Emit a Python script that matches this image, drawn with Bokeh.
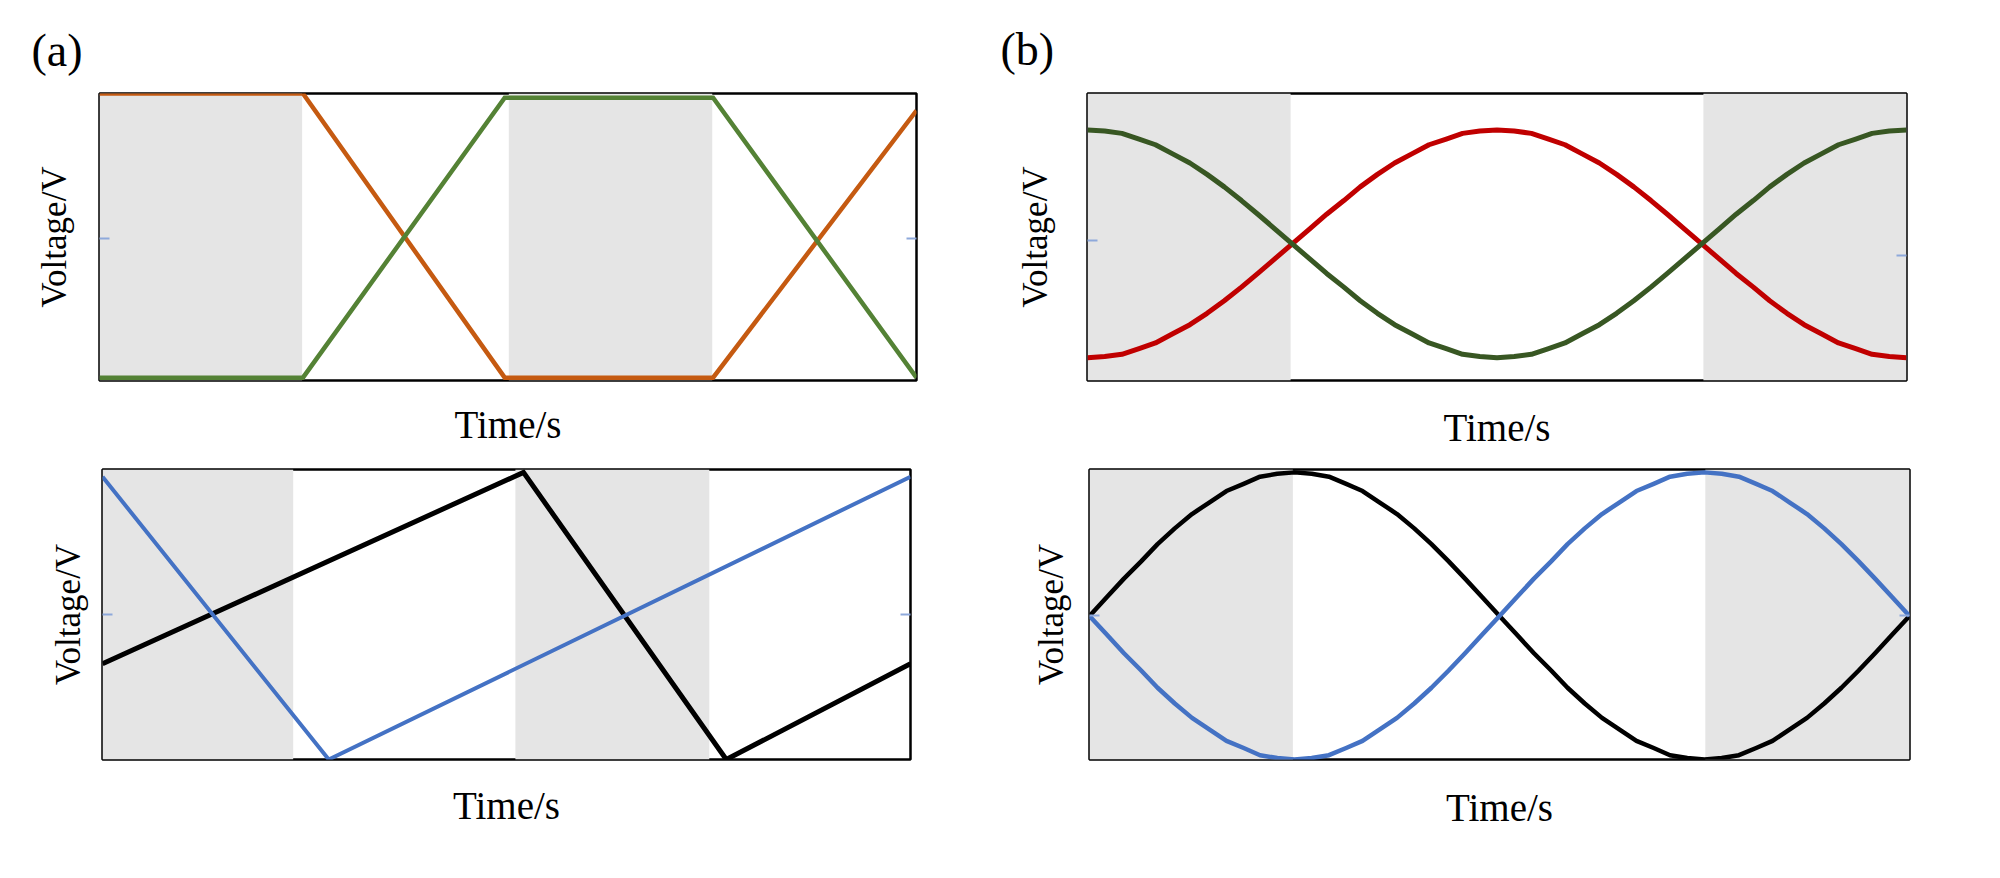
from bokeh.plotting import figure
from bokeh.models import Range1d, LinearAxis, FixedTicker, BoxAnnotation, CustomJSTickFormatter
from bokeh.layouts import column, row
from bokeh.embed import file_html
from bokeh.resources import INLINE

# ---------------- data (time as fraction of the window, voltage in arbitrary units) ----------------
# panel (a), upper: trapezoid waveforms
a1_time = [0.0, 0.249, 0.496, 0.751, 1.0]
a1_orange = [1.0, 1.0, 0.0, 0.0, 0.94]
a1_green = [0.0, 0.0, 0.985, 0.985, 0.0]
a1_shade_start = [0.0, 0.501]
a1_shade_end = [0.248, 0.750]

# panel (a), lower: sawtooth-like waveforms
a2_blue_time = [0.0, 0.28, 1.0]
a2_blue = [0.975, 0.0, 0.975]
a2_black_time = [0.0, 0.521, 0.772, 1.0]
a2_black = [0.33, 0.99, 0.0, 0.33]
a2_shade_start = [0.0, 0.511]
a2_shade_end = [0.236, 0.751]

# panel (b): smooth waveforms read at 49 time points
b_time = [0.0, 0.021, 0.042, 0.063, 0.083, 0.104, 0.125, 0.146, 0.167, 0.188, 0.208, 0.229,
          0.25, 0.271, 0.292, 0.313, 0.333, 0.354, 0.375, 0.396, 0.417, 0.438, 0.458, 0.479,
          0.5, 0.521, 0.542, 0.563, 0.583, 0.604, 0.625, 0.646, 0.667, 0.688, 0.708, 0.729,
          0.75, 0.771, 0.792, 0.813, 0.833, 0.854, 0.875, 0.896, 0.917, 0.938, 0.958, 0.979, 1.0]
b1_green = [1.0, 0.99, 0.97, 0.92, 0.87, 0.79, 0.71, 0.61, 0.5, 0.38, 0.26, 0.13,
            0.0, -0.13, -0.26, -0.38, -0.5, -0.61, -0.71, -0.79, -0.87, -0.92, -0.97, -0.99,
            -1.0, -0.99, -0.97, -0.92, -0.87, -0.79, -0.71, -0.61, -0.5, -0.38, -0.26, -0.13,
            0.0, 0.13, 0.26, 0.38, 0.5, 0.61, 0.71, 0.79, 0.87, 0.92, 0.97, 0.99, 1.0]
b1_red = [-1.0, -0.99, -0.97, -0.92, -0.87, -0.79, -0.71, -0.61, -0.5, -0.38, -0.26, -0.13,
          0.0, 0.13, 0.26, 0.38, 0.5, 0.61, 0.71, 0.79, 0.87, 0.92, 0.97, 0.99,
          1.0, 0.99, 0.97, 0.92, 0.87, 0.79, 0.71, 0.61, 0.5, 0.38, 0.26, 0.13,
          0.0, -0.13, -0.26, -0.38, -0.5, -0.61, -0.71, -0.79, -0.87, -0.92, -0.97, -0.99, -1.0]
b1_shade_start = [0.0, 0.752]
b1_shade_end = [0.248, 1.0]

b2_black = [0.0, 0.13, 0.26, 0.38, 0.5, 0.61, 0.71, 0.79, 0.87, 0.92, 0.97, 0.99,
            1.0, 0.99, 0.97, 0.92, 0.87, 0.79, 0.71, 0.61, 0.5, 0.38, 0.26, 0.13,
            0.0, -0.13, -0.26, -0.38, -0.5, -0.61, -0.71, -0.79, -0.87, -0.92, -0.97, -0.99,
            -1.0, -0.99, -0.97, -0.92, -0.87, -0.79, -0.71, -0.61, -0.5, -0.38, -0.26, -0.13, 0.0]
b2_blue = [0.0, -0.13, -0.26, -0.38, -0.5, -0.61, -0.71, -0.79, -0.87, -0.92, -0.97, -0.99,
           -1.0, -0.99, -0.97, -0.92, -0.87, -0.79, -0.71, -0.61, -0.5, -0.38, -0.26, -0.13,
           0.0, 0.13, 0.26, 0.38, 0.5, 0.61, 0.71, 0.79, 0.87, 0.92, 0.97, 0.99,
           1.0, 0.99, 0.97, 0.92, 0.87, 0.79, 0.71, 0.61, 0.5, 0.38, 0.26, 0.13, 0.0]
b2_shade_start = [0.0, 0.751]
b2_shade_end = [0.248, 1.0]

x_label = "Time/s"
y_label = "Voltage/V"
panel_labels = ["(a)", "(b)"]

# ---------------- styling ----------------
SHADE = "#E5E5E5"
TICK = "#8EA9DB"
ORANGE = "#C55A11"
GREEN_A = "#548235"
RED = "#C00000"
GREEN_B = "#385723"
BLUE = "#4472C4"
BLACK = "#000000"
SERIF = "Liberation Serif"


def make_panel(w, h, left, right, top, bottom, yr, x_standoff, y_standoff,
               tick_left, tick_right, shade_start, shade_end):
    p = figure(width=w, height=h,
               min_border_left=left, min_border_right=right,
               min_border_top=top, min_border_bottom=bottom,
               x_range=Range1d(0, 1), y_range=Range1d(*yr),
               x_axis_location=None, y_axis_location=None,
               toolbar_location=None, tools="", output_backend="svg")
    p.xgrid.visible = False
    p.ygrid.visible = False
    p.background_fill_color = "white"
    p.border_fill_color = "white"
    p.outline_line_color = "black"
    p.outline_line_width = 2.5
    p.outline_line_alpha = 1.0

    for s, e in zip(shade_start, shade_end):
        p.add_layout(BoxAnnotation(left=s, right=e, fill_color=SHADE, fill_alpha=1.0,
                                   line_color=None, level="underlay"))

    blank = CustomJSTickFormatter(code="return ''")

    xax = LinearAxis(ticker=FixedTicker(ticks=[]), axis_label=x_label,
                     axis_line_color=None, major_tick_line_color=None,
                     minor_tick_line_color=None, major_label_standoff=0,
                     major_label_text_font_size="0px", formatter=blank,
                     axis_label_standoff=x_standoff,
                     axis_label_text_font=SERIF,
                     axis_label_text_font_size="39px",
                     axis_label_text_font_style="normal",
                     axis_label_text_color="black")
    p.add_layout(xax, "below")

    yax = LinearAxis(ticker=FixedTicker(ticks=[tick_left]), axis_label=y_label,
                     axis_line_color=None, major_tick_line_color=TICK,
                     major_tick_line_width=2, major_tick_in=10, major_tick_out=0,
                     minor_tick_line_color=None, major_label_standoff=0,
                     major_label_text_font_size="0px", formatter=blank,
                     axis_label_standoff=y_standoff,
                     axis_label_text_font=SERIF,
                     axis_label_text_font_size="35px",
                     axis_label_text_font_style="normal",
                     axis_label_text_color="black")
    p.add_layout(yax, "left")

    ryax = LinearAxis(ticker=FixedTicker(ticks=[tick_right]),
                      axis_line_color=None, major_tick_line_color=TICK,
                      major_tick_line_width=2, major_tick_in=10, major_tick_out=0,
                      minor_tick_line_color=None, major_label_standoff=0,
                      major_label_text_font_size="0px", formatter=blank)
    p.add_layout(ryax, "right")
    return p


def panel_title(p, text, offset, standoff):
    p.title.text = text
    p.title.align = "left"
    p.title.offset = offset
    p.title.standoff = standoff
    p.title.text_font = SERIF
    p.title.text_font_size = "46px"
    p.title.text_font_style = "normal"
    p.title.text_color = "black"


TOP_H = 462
BOT_H = 878 - TOP_H

# ---- (a) upper ----
pa1 = make_panel(1000, TOP_H, 99, 84, 92, TOP_H - 92 - 288, (-0.01, 1.0), 22, 26, 0.49, 0.49,
                 a1_shade_start, a1_shade_end)
pa1.line(a1_time, a1_orange, line_color=ORANGE, line_width=4.5, line_join="miter")
pa1.line(a1_time, a1_green, line_color=GREEN_A, line_width=4.5, line_join="miter")
panel_title(pa1, panel_labels[0], -68, 36)

# ---- (b) upper ----
pb1 = make_panel(1000, TOP_H, 87, 94, 93, TOP_H - 93 - 294, (-1.2, 1.32), 25, 33, 0.03, -0.1,
                 b1_shade_start, b1_shade_end)
pb1.line(b_time, b1_red, line_color=RED, line_width=5, line_join="round")
pb1.line(b_time, b1_green, line_color=GREEN_B, line_width=5, line_join="round")
panel_title(pb1, panel_labels[1], -87, 37)

# ---- (a) lower ----
pa2 = make_panel(1000, BOT_H, 102, 90, 465 - TOP_H, BOT_H - (465 - TOP_H) - 294, (0.0, 1.0),
                 24, 15, 0.5, 0.5, a2_shade_start, a2_shade_end)
pa2.line(a2_black_time, a2_black, line_color=BLACK, line_width=5, line_join="miter")
pa2.line(a2_blue_time, a2_blue, line_color=BLUE, line_width=4, line_join="miter")

# ---- (b) lower ----
pb2 = make_panel(1000, BOT_H, 89, 91, 469 - TOP_H, BOT_H - (469 - TOP_H) - 294, (-1.0, 1.02),
                 26, 19, 0.0, 0.0, b2_shade_start, b2_shade_end)
pb2.line(b_time, b2_black, line_color=BLACK, line_width=4.5, line_join="round")
pb2.line(b_time, b2_blue, line_color=BLUE, line_width=4.5, line_join="round")

layout = column(row(pa1, pb1), row(pa2, pb2))

open("out.html", "w").write(file_html(layout, INLINE))
